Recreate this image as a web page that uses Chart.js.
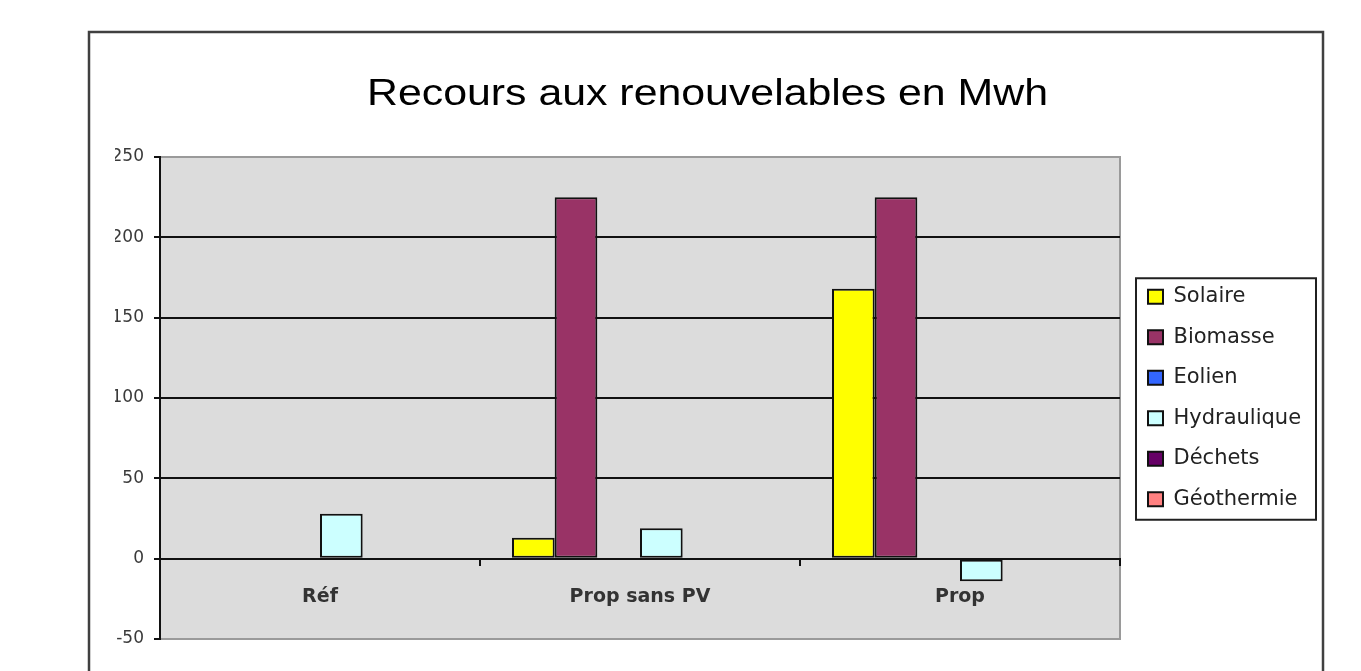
<!DOCTYPE html>
<html><head><meta charset="utf-8">
<script src="https://cdn.jsdelivr.net/npm/chart.js@4.4.1/dist/chart.umd.min.js"></script>
<style>html,body{margin:0;padding:0;background:#fff;overflow:hidden}canvas{display:block}</style>
</head><body>
<canvas id="c" width="1361" height="671" style="width:1361px;height:671px"></canvas>
<script>
// ---- data ----
const categories = ['Réf', 'Prop sans PV', 'Prop'];
const seriesNames = ['Solaire', 'Biomasse', 'Eolien', 'Hydraulique', 'Déchets', 'Géothermie'];
const solaire = [0, 13, 168];
const biomasse = [0, 225, 225];
const eolien = [0, 0, 0];
const hydraulique = [28, 19, -14];
const dechets = [0, 0, 0];
const geothermie = [0, 0, 0];
const yTicks = [-50, 0, 50, 100, 150, 200, 250];
const titleText = 'Recours aux renouvelables en Mwh';

const seriesValues = [solaire, biomasse, eolien, hydraulique, dechets, geothermie];
const seriesColors = ['#ffff00', '#993366', '#3366ff', '#ccffff', '#660066', '#ff8080'];

const LEGEND_W = 180;
const LEGEND_SHIFT = 8.5;
const TITLE_STRETCH = 1.19;

const decor = {
  id: 'decor',
  beforeLayout(chart) {
    const lg = chart.legend;
    if (lg && !lg._wrapped) {
      const f = lg.fit;
      lg.fit = function () { f.call(this); this.width = LEGEND_W; };
      lg._wrapped = true;
    }
    const tb = chart.titleBlock;
    if (tb && !tb._wrapped) {
      const d = tb.draw;
      tb.draw = function () {
        const ctx = this.ctx, cx = (this.left + this.right) / 2;
        ctx.save();
        ctx.translate(cx, 0);
        ctx.scale(TITLE_STRETCH, 1);
        ctx.translate(-cx, 0);
        d.apply(this, arguments);
        ctx.restore();
      };
      tb._wrapped = true;
    }
  },
  afterLayout(chart) {
    const lg = chart.legend, a = chart.chartArea;
    if (lg) {
      lg.left += LEGEND_SHIFT; lg.right += LEGEND_SHIFT;
      lg.top = a.top; lg.bottom = a.bottom; lg.height = a.bottom - a.top;
    }
  },
  beforeDraw(chart) {
    const ctx = chart.ctx, a = chart.chartArea;
    ctx.save();
    ctx.fillStyle = '#ffffff';
    ctx.fillRect(0, 0, chart.width, chart.height);
    ctx.strokeStyle = '#404040';
    ctx.lineWidth = 2.5;
    ctx.strokeRect(89, 32, 1234, 800);
    ctx.fillStyle = '#dcdcdc';
    ctx.fillRect(a.left, a.top, a.right - a.left, a.bottom - a.top);
    ctx.strokeStyle = '#9a9a9a';
    ctx.lineWidth = 2;
    ctx.strokeRect(a.left, a.top, a.right - a.left, a.bottom - a.top);
    ctx.restore();
  },
  afterDraw(chart) {
    const lg = chart.legend;
    if (!lg || !lg.legendHitBoxes || !lg.legendHitBoxes.length) return;
    const hb = lg.legendHitBoxes;
    let l = Infinity, t = Infinity, b = -Infinity;
    hb.forEach(h => { l = Math.min(l, h.left); t = Math.min(t, h.top); b = Math.max(b, h.top + h.height); });
    const ctx = chart.ctx;
    ctx.save();
    ctx.strokeStyle = '#202020';
    ctx.lineWidth = 2;
    ctx.strokeRect(l - 12, t - 8, 180, b - t + 18);
    ctx.restore();
  }
};

new Chart(document.getElementById('c'), {
  type: 'bar',
  data: {
    labels: categories,
    datasets: seriesNames.map((n, i) => ({
      label: n,
      data: seriesValues[i],
      backgroundColor: seriesColors[i],
      borderColor: '#111111',
      borderWidth: 2,
      borderSkipped: false,
      categoryPercentage: 0.8,
      barPercentage: 1.0
    }))
  },
  options: {
    responsive: false,
    animation: false,
    devicePixelRatio: 1,
    layout: { padding: { left: 115, right: 61, top: 31, bottom: 32 } },
    plugins: {
      title: {
        display: true,
        text: titleText,
        color: '#000000',
        font: { family: 'Liberation Sans', size: 36, weight: 'normal' },
        padding: { top: 42, bottom: 40.8 }
      },
      legend: {
        position: 'right',
        labels: {
          font: { family: 'DejaVu Sans', size: 21 },
          color: '#222222',
          boxWidth: 15,
          boxHeight: 14,
          padding: 19.5
        }
      },
      tooltip: { enabled: false }
    },
    scales: {
      x: {
        position: { y: 0 },
        offset: true,
        grid: { drawOnChartArea: false, offset: true, tickLength: 6, color: '#111111', lineWidth: 2 },
        border: { display: true, color: '#111111', width: 2 },
        ticks: { font: { family: 'DejaVu Sans', size: 19, weight: 'bold' }, color: '#333333', padding: 21 }
      },
      y: {
        min: -50,
        max: 250,
        afterBuildTicks: s => { s.ticks = yTicks.map(v => ({ value: v })); },
        afterFit: s => { s.width = 45; },
        grid: {
          color: c => (c.tick && (c.tick.value === 250 || c.tick.value === -50)) ? 'rgba(0,0,0,0)' : '#111111',
          tickColor: '#111111',
          lineWidth: 2,
          tickLength: 6
        },
        border: { color: '#111111', width: 2 },
        ticks: { font: { family: 'DejaVu Sans', size: 17 }, color: '#3a3a3a', padding: 10 }
      }
    }
  },
  plugins: [decor]
});
</script>
</body></html>
